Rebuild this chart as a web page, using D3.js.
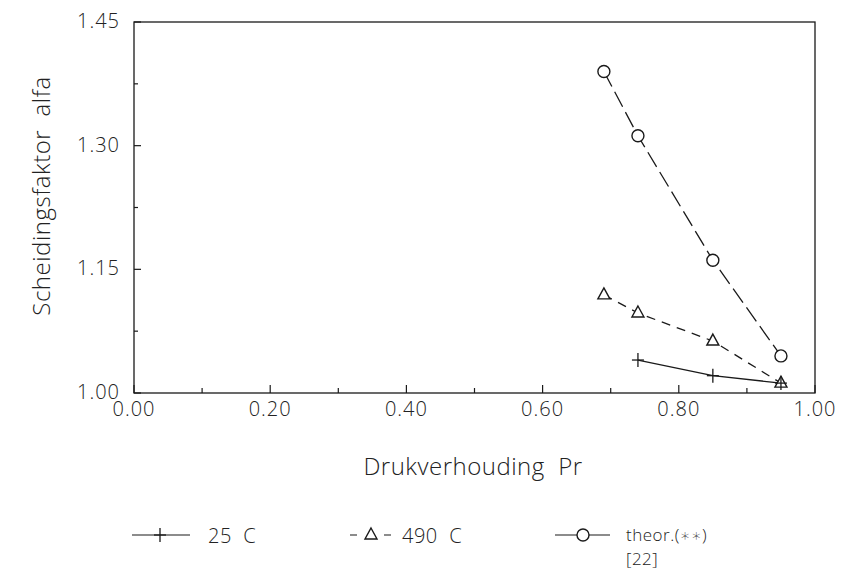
<!DOCTYPE html>
<html lang="nl">
    <head>
        <meta charset="utf-8">
        <title>Scheidingsfaktor alfa</title>
        <script type="text/javascript" src="https://cdn.jsdelivr.net/npm/d3@7/dist/d3.min.js"></script>
        <style type="text/css">
            body { margin: 0; background: #fff; }
            text { font-family: "Open Sans", "DejaVu Sans", sans-serif; fill: #222; white-space: pre; font-weight: 300; }
        </style>
    </head>
    <body>
        <script type="text/javascript">
            var w = 843;
            var h = 571;

            // Data
            var pr25 = [0.74, 0.85, 0.95];
            var alfa25 = [1.040, 1.021, 1.012];
            var pr490 = [0.69, 0.74, 0.85, 0.95];
            var alfa490 = [1.119, 1.097, 1.063, 1.012];
            var prTheor = [0.69, 0.74, 0.85, 0.95];
            var alfaTheor = [1.390, 1.312, 1.161, 1.045];

            var xTicks = [0, 0.2, 0.4, 0.6, 0.8, 1.0];
            var xTickLabels = ["0.00", "0.20", "0.40", "0.60", "0.80", "1.00"];
            var xMinorTicks = [0.1, 0.3, 0.5, 0.7, 0.9];
            var yTicks = [1.00, 1.15, 1.30, 1.45];
            var yTickLabels = ["1.00", "1.15", "1.30", "1.45"];
            var yMinorTicks = [1.075, 1.225, 1.375];

            var plotL = 134, plotR = 815, plotT = 22, plotB = 393;

            var xScale = d3.scaleLinear().domain([0, 1]).range([plotL, plotR]);
            var yScale = d3.scaleLinear().domain([1.00, 1.45]).range([plotB, plotT]);

            var svg = d3.select("body")
                .append("svg")
                .attr("width", w)
                .attr("height", h);

            var ink = "#1a1a1a";

            // frame
            svg.append("rect")
                .attr("x", plotL).attr("y", plotT)
                .attr("width", plotR - plotL).attr("height", plotB - plotT)
                .attr("fill", "none").attr("stroke", ink).attr("stroke-width", 1.3);

            // x ticks (inward)
            svg.selectAll(".xt").data(xTicks).enter().append("line")
                .attr("x1", function(d) { return xScale(d); })
                .attr("x2", function(d) { return xScale(d); })
                .attr("y1", plotB).attr("y2", plotB - 8)
                .attr("stroke", ink).attr("stroke-width", 1.2);
            svg.selectAll(".xm").data(xMinorTicks).enter().append("line")
                .attr("x1", function(d) { return xScale(d); })
                .attr("x2", function(d) { return xScale(d); })
                .attr("y1", plotB).attr("y2", plotB - 5)
                .attr("stroke", ink).attr("stroke-width", 1.2);
            svg.selectAll(".xl").data(xTicks).enter().append("text")
                .attr("x", function(d) { return xScale(d); })
                .attr("y", 416)
                .attr("text-anchor", "middle")
                .attr("font-size", "20px")
                .attr("letter-spacing", "1px")
                .text(function(d, i) { return xTickLabels[i]; });

            // y ticks (inward)
            svg.selectAll(".yt").data(yTicks).enter().append("line")
                .attr("x1", plotL).attr("x2", plotL + 7)
                .attr("y1", function(d) { return yScale(d); })
                .attr("y2", function(d) { return yScale(d); })
                .attr("stroke", ink).attr("stroke-width", 1.2);
            svg.selectAll(".ym").data(yMinorTicks).enter().append("line")
                .attr("x1", plotL).attr("x2", plotL + 4)
                .attr("y1", function(d) { return yScale(d); })
                .attr("y2", function(d) { return yScale(d); })
                .attr("stroke", ink).attr("stroke-width", 1.2);
            svg.selectAll(".yl").data(yTicks).enter().append("text")
                .attr("x", 120)
                .attr("y", function(d) { return yScale(d) + 6; })
                .attr("text-anchor", "end")
                .attr("font-size", "20px")
                .attr("letter-spacing", "1px")
                .text(function(d, i) { return yTickLabels[i]; });

            // axis titles
            svg.append("text")
                .attr("x", 473).attr("y", 475)
                .attr("text-anchor", "middle")
                .attr("font-size", "24px")
                .attr("letter-spacing", "0.5px")
                .text("Drukverhouding  Pr");
            svg.append("text")
                .attr("transform", "translate(50,196) rotate(-90)")
                .attr("text-anchor", "middle")
                .attr("font-size", "24px")
                .attr("letter-spacing", "0.5px")
                .text("Scheidingsfaktor  alfa");

            var line = d3.line()
                .x(function(d) { return xScale(d[0]); })
                .y(function(d) { return yScale(d[1]); });

            function drawPlus(g, cx, cy) {
                g.append("line").attr("x1", cx - 6).attr("x2", cx + 6).attr("y1", cy).attr("y2", cy)
                    .attr("stroke", ink).attr("stroke-width", 1.3);
                g.append("line").attr("x1", cx).attr("x2", cx).attr("y1", cy - 7).attr("y2", cy + 7)
                    .attr("stroke", ink).attr("stroke-width", 1.3);
            }
            function drawTri(g, cx, cy) {
                g.append("path")
                    .attr("d", "M" + cx + "," + (cy - 7) + " L" + (cx + 6) + "," + (cy + 4) + " L" + (cx - 6) + "," + (cy + 4) + " Z")
                    .attr("fill", "#fff").attr("stroke", ink).attr("stroke-width", 1.4);
            }
            function drawCirc(g, cx, cy) {
                g.append("circle").attr("cx", cx).attr("cy", cy).attr("r", 6)
                    .attr("fill", "#fff").attr("stroke", ink).attr("stroke-width", 1.4);
            }

            var series = [
                { xs: prTheor, ys: alfaTheor, dash: "17,6", mark: drawCirc },
                { xs: pr490, ys: alfa490, dash: "9,7", mark: drawTri },
                { xs: pr25, ys: alfa25, dash: null, mark: drawPlus }
            ];

            var plot = svg.append("g");
            series.forEach(function(s) {
                var pts = s.xs.map(function(x, i) { return [x, s.ys[i]]; });
                plot.append("path")
                    .datum(pts)
                    .attr("d", line)
                    .attr("fill", "none")
                    .attr("stroke", ink)
                    .attr("stroke-width", 1.3)
                    .attr("stroke-dasharray", s.dash);
            });
            series.forEach(function(s) {
                s.xs.forEach(function(x, i) {
                    s.mark(plot, xScale(x), yScale(s.ys[i]));
                });
            });

            // legend
            var lg = svg.append("g");
            var ly = 535;
            lg.append("line").attr("x1", 132).attr("x2", 190).attr("y1", ly).attr("y2", ly)
                .attr("stroke", ink).attr("stroke-width", 1.2);
            drawPlus(lg, 160, ly);
            lg.append("text").attr("x", 208).attr("y", ly + 8).attr("font-size", "20px").attr("letter-spacing", "0.5px").text("25  C");

            lg.append("line").attr("x1", 350).attr("x2", 392).attr("y1", ly).attr("y2", ly)
                .attr("stroke", ink).attr("stroke-width", 1.2).attr("stroke-dasharray", "7,10");
            drawTri(lg, 371, ly);
            lg.append("text").attr("x", 402).attr("y", ly + 8).attr("font-size", "20px").attr("letter-spacing", "0.5px").text("490  C");

            lg.append("line").attr("x1", 555).attr("x2", 610).attr("y1", ly).attr("y2", ly)
                .attr("stroke", ink).attr("stroke-width", 1.2);
            drawCirc(lg, 583, ly);
            lg.append("text").attr("x", 626).attr("y", ly + 6).attr("font-size", "17px").attr("letter-spacing", "0.5px").text("theor.(\u2217\u2217)");
            lg.append("text").attr("x", 626).attr("y", ly + 30).attr("font-size", "17px").attr("letter-spacing", "0.5px").text("[22]");
        </script>
    </body>
</html>
